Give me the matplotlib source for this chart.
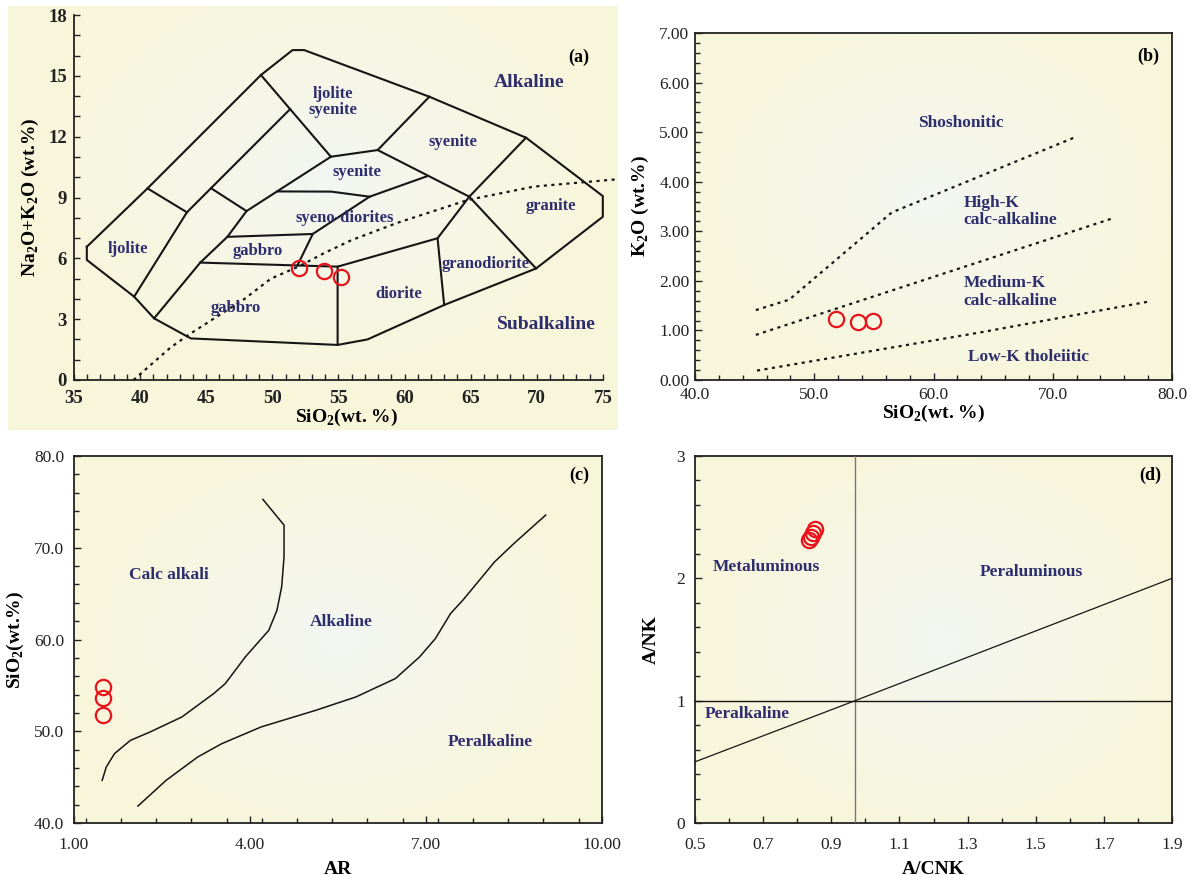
import numpy as np
import matplotlib
matplotlib.use('Agg')
import matplotlib.pyplot as plt
from matplotlib.ticker import MultipleLocator, FormatStrFormatter, FixedLocator

plt.rcParams['font.family'] = ['Liberation Serif', 'DejaVu Serif']
plt.rcParams['mathtext.fontset'] = 'custom'
plt.rcParams['mathtext.rm'] = 'Liberation Serif'
plt.rcParams['mathtext.bf'] = 'Liberation Serif:bold'

NAVY = '#2e2d6e'
RED = '#e8141b'

# ---------------- Panel (a) TAS data ----------------
tas_sio2 = [52.0, 53.9, 55.2]
tas_alk = [5.5, 5.4, 5.1]

tas_outer = [(35.97, 6.57), (40.56, 9.45), (49.14, 15.04), (51.53, 16.27), (52.41, 16.27),
             (61.88, 13.97), (69.19, 11.95), (75.0, 9.07), (75.0, 8.05), (69.95, 5.5),
             (63.0, 3.7), (57.2, 2.0), (54.94, 1.73), (43.84, 2.05), (41.06, 3.04),
             (39.55, 4.11), (35.97, 5.92), (35.97, 6.57)]
tas_lines = [
    [(51.35, 13.36), (43.54, 8.27), (39.55, 4.11)],
    [(54.43, 11.01), (48.05, 8.33), (46.6, 7.06), (44.55, 5.79), (41.06, 3.04)],
    [(40.56, 9.45), (43.54, 8.27)],
    [(45.36, 9.46), (48.05, 8.33)],
    [(49.14, 15.04), (54.43, 11.01)],
    [(54.43, 11.01), (57.97, 11.34), (61.88, 13.97)],
    [(57.97, 11.34), (64.9, 9.04)],
    [(69.19, 11.95), (64.9, 9.04), (69.95, 5.5)],
    [(64.9, 9.04), (62.5, 6.99), (63.0, 3.7)],
    [(62.5, 6.99), (54.94, 5.59), (54.94, 1.73)],
    [(44.55, 5.79), (54.94, 5.59)],
    [(46.6, 7.06), (53.06, 7.2), (57.36, 9.04), (61.75, 10.06)],
    [(53.06, 7.2), (51.9, 5.65)],
    [(50.4, 9.3), (54.46, 9.29), (57.36, 9.04)],
]
ib_x = [39.5, 42.3, 43.6, 47.9, 49.9, 52.0, 53.9, 56.0, 59.5, 64.8, 69.8, 76.1]
ib_y = [0.0, 1.6, 2.2, 4.0, 5.0, 5.6, 6.25, 6.9, 7.76, 8.88, 9.54, 9.9]

tas_labels = [
    ('ljolite\nsyenite', 54.6, 13.7, 12), ('syenite', 63.7, 11.73, 12),
    ('syenite', 56.4, 10.28, 12), ('syeno-diorites', 55.45, 7.98, 12),
    ('ljolite', 39.1, 6.45, 12), ('gabbro', 48.9, 6.38, 12),
    ('gabbro', 47.2, 3.54, 12), ('diorite', 59.55, 4.23, 12),
    ('granodiorite', 66.1, 5.7, 12), ('granite', 71.1, 8.6, 12),
    ('Alkaline', 69.4, 14.67, 14), ('Subalkaline', 70.7, 2.75, 14),
]

# ---------------- Panel (b) data ----------------
k_sio2 = [51.8, 53.7, 54.9]
k_k2o = [1.24, 1.17, 1.20]
shos_x = [45.1, 47.9, 56.5, 72.0]
shos_y = [1.41, 1.62, 3.38, 4.91]
highk_x = [45.1, 60.0, 75.0]
highk_y = [0.91, 2.08, 3.26]
lowk_x = [45.2, 63.7, 78.0]
lowk_y = [0.19, 0.95, 1.58]
k_labels = [('Shoshonitic', 62.3, 5.18, 'center'), ('High-K\ncalc-alkaline', 62.5, 3.4, 'left'),
            ('Medium-K\ncalc-alkaline', 62.5, 1.77, 'left'), ('Low-K tholeiitic', 62.9, 0.46, 'left')]

# ---------------- Panel (c) data ----------------
ar_vals = [1.5, 1.5, 1.5]
ar_sio2 = [51.8, 53.6, 54.8]
ca_x = [1.48, 1.55, 1.69, 1.96, 2.30, 2.84, 3.38, 3.58, 3.92, 4.32, 4.46, 4.54, 4.58, 4.58, 4.22]
ca_y = [44.65, 46.1, 47.56, 49.0, 49.93, 51.56, 54.1, 55.2, 58.1, 61.0, 63.2, 65.75, 69.0, 72.47, 75.27]
pk_x = [2.09, 2.57, 3.11, 3.52, 4.19, 5.13, 5.81, 6.48, 6.89, 7.16, 7.42, 7.63, 8.17, 8.5, 9.04]
pk_y = [41.85, 44.65, 47.2, 48.65, 50.47, 52.3, 53.75, 55.75, 58.1, 60.1, 62.84, 64.3, 68.47, 70.47, 73.56]
ar_labels = [('Calc alkali', 2.62, 67.0), ('Alkaline', 5.55, 61.9), ('Peralkaline', 8.09, 48.8)]
ar_ticks = [1.0, 4.0, 7.0, 10.0]

# ---------------- Panel (d) data ----------------
acnk = [0.835, 0.841, 0.847, 0.853]
anK = [2.31, 2.34, 2.37, 2.40]
acnk_div = 0.97
diag_x = [0.5, 0.97, 1.9]
diag_y = [0.5, 1.0, 2.0]
d_labels = [('Metaluminous', 0.709, 2.09), ('Peraluminous', 1.487, 2.05), ('Peralkaline', 0.653, 0.894)]
acnk_ticks = [0.5, 0.7, 0.9, 1.1, 1.3, 1.5, 1.7, 1.9]

W, H = 1187, 876
fig = plt.figure(figsize=(W / 100, H / 100), dpi=100)


def frac(x0, y0, x1, y1):
    return [x0 / W, 1 - y1 / H, (x1 - x0) / W, (y1 - y0) / H]


def gradient(cx=0.5, cy=0.5, rx=0.55, ry=0.55):
    n = 300
    yy, xx = np.mgrid[0:1:n * 1j, 0:1:n * 1j]
    r = np.sqrt(((xx - cx) / rx) ** 2 + ((yy - cy) / ry) ** 2)
    t = np.clip(r, 0, 1) ** 0.8
    c0 = np.array([243, 247, 244]) / 255.0
    c1 = np.array([248, 246, 218]) / 255.0
    img = c0[None, None, :] * (1 - t[..., None]) + c1[None, None, :] * t[..., None]
    return img


def add_bg(ax, **kw):
    ax.imshow(gradient(**kw), extent=(0, 1, 0, 1), transform=ax.transAxes,
              aspect='auto', zorder=-5, origin='lower', interpolation='bilinear')


def style(ax, box=True, labelsize=12.5, xpad=5, ypad=4):
    for s in ax.spines.values():
        s.set_linewidth(1.3)
        s.set_color('#222222')
    ax.tick_params(which='both', direction='in', labelsize=labelsize, width=1.0, colors='#222222',
                   top=False, right=False)
    ax.tick_params(axis='x', which='major', pad=xpad)
    ax.tick_params(axis='y', which='major', pad=ypad)
    ax.tick_params(which='major', length=5)
    ax.tick_params(which='minor', length=3.5)
    if not box:
        ax.spines['top'].set_visible(False)
        ax.spines['right'].set_visible(False)


label_font = dict(fontsize=14, fontweight='bold')
mk = dict(marker='o', ls='none', ms=11, mfc='none', mec=RED, mew=1.6, zorder=5)

# ---------- (a) ----------
bg = fig.add_axes(frac(8, 6, 618, 430))
bg.set_axis_off()
add_bg(bg, cx=0.52, cy=0.6, rx=0.5, ry=0.55)
bg.set_zorder(0)

axa = fig.add_axes(frac(74, 15, 620, 380))
axa.set_zorder(1)
axa.set_facecolor('none')
axa.set_xlim(35, 76.3)
axa.set_ylim(0, 18)
style(axa, box=False, labelsize=13.5, xpad=7, ypad=5)
axa.spines['bottom'].set_bounds(35, 75)
axa.set_xticks(list(range(35, 76, 5)))
axa.set_xticks(list(range(35, 76)), minor=True)
axa.yaxis.set_major_locator(MultipleLocator(3))
axa.yaxis.set_minor_locator(MultipleLocator(1))
axa.tick_params(which='both', length=4)
for lab in axa.get_xticklabels() + axa.get_yticklabels():
    lab.set_fontweight('bold')
ox, oy = zip(*tas_outer)
axa.plot(ox, oy, color='#151515', lw=1.5, zorder=3)
for seg in tas_lines:
    sx, sy = zip(*seg)
    axa.plot(sx, sy, color='#151515', lw=1.5, zorder=3)
axa.plot(ib_x, ib_y, color='#151515', lw=1.6, ls=(0, (1.4, 2.0)), zorder=3, clip_on=False)
for txt, x, y, fs in tas_labels:
    axa.text(x, y, txt, color=NAVY, fontsize=fs, ha='center', va='center', linespacing=1.0,
             fontweight='bold', zorder=4)
axa.text(73.2, 15.92, '(a)', fontsize=13, fontweight='bold', ha='center', va='center')
axa.plot(tas_sio2, tas_alk, **mk)
axa.set_xlabel(r'SiO$_\mathbf{2}$(wt. %)', labelpad=0, **label_font)
axa.set_ylabel(r'Na$_\mathbf{2}$O+K$_\mathbf{2}$O (wt.%)', labelpad=5, **label_font)

# ---------- (b) ----------
axb = fig.add_axes(frac(695, 33, 1172, 380))
add_bg(axb, cx=0.5, cy=0.52, rx=0.55, ry=0.6)
axb.set_xlim(40, 80)
axb.set_ylim(0, 7)
style(axb, xpad=5)
axb.xaxis.set_major_locator(MultipleLocator(10))
axb.xaxis.set_minor_locator(MultipleLocator(2))
axb.yaxis.set_major_locator(MultipleLocator(1))
axb.yaxis.set_minor_locator(MultipleLocator(0.2))
axb.xaxis.set_major_formatter(FormatStrFormatter('%.1f'))
axb.yaxis.set_major_formatter(FormatStrFormatter('%.2f'))
for lx, ly in [(shos_x, shos_y), (highk_x, highk_y), (lowk_x, lowk_y)]:
    axb.plot(lx, ly, color='#151515', lw=1.6, ls=(0, (1.4, 2.0)), zorder=3)
for txt, x, y, ha in k_labels:
    axb.text(x, y, txt, color=NAVY, fontsize=12.5, fontweight='bold', ha=ha, va='center',
             linespacing=1.15)
axb.text(78.0, 6.53, '(b)', fontsize=13, fontweight='bold', ha='center', va='center')
axb.plot(k_sio2, k_k2o, **mk)
axb.set_xlabel(r'SiO$_\mathbf{2}$(wt. %)', labelpad=0, **label_font)
axb.set_ylabel(r'K$_\mathbf{2}$O (wt.%)', labelpad=6, **label_font)

# ---------- (c) ----------
axc = fig.add_axes(frac(74, 456, 602, 823))
add_bg(axc, cx=0.5, cy=0.5, rx=0.55, ry=0.6)
axc.set_xlim(1, 10)
axc.set_ylim(40, 80)
style(axc, xpad=10, ypad=7)
axc.xaxis.set_major_locator(FixedLocator(ar_ticks))
axc.xaxis.set_minor_locator(MultipleLocator(0.6))
axc.yaxis.set_major_locator(MultipleLocator(10))
axc.yaxis.set_minor_locator(MultipleLocator(2))
axc.xaxis.set_major_formatter(FormatStrFormatter('%.2f'))
axc.yaxis.set_major_formatter(FormatStrFormatter('%.1f'))
axc.plot(ca_x, ca_y, color='#151515', lw=1.1, zorder=3)
axc.plot(pk_x, pk_y, color='#151515', lw=1.1, zorder=3)
for txt, x, y in ar_labels:
    axc.text(x, y, txt, color=NAVY, fontsize=12.5, fontweight='bold', ha='center', va='center')
axc.text(9.62, 77.9, '(c)', fontsize=13, fontweight='bold', ha='center', va='center')
axc.plot(ar_vals, ar_sio2, **mk)
axc.set_xlabel('AR', labelpad=6, **label_font)
axc.set_ylabel(r'SiO$_\mathbf{2}$(wt.%)', labelpad=6, **label_font)

# ---------- (d) ----------
axd = fig.add_axes(frac(695, 456, 1172, 823))
add_bg(axd, cx=0.52, cy=0.5, rx=0.55, ry=0.6)
axd.set_xlim(0.5, 1.9)
axd.set_ylim(0, 3)
style(axd, xpad=10, ypad=7)
axd.xaxis.set_major_locator(FixedLocator(acnk_ticks))
axd.xaxis.set_minor_locator(MultipleLocator(0.1))
axd.yaxis.set_major_locator(MultipleLocator(1))
axd.yaxis.set_minor_locator(MultipleLocator(0.2))
axd.xaxis.set_major_formatter(FormatStrFormatter('%.1f'))
axd.yaxis.set_major_formatter(FormatStrFormatter('%d'))
axd.axvline(acnk_div, color='#777777', lw=1.0, zorder=3)
axd.axhline(1.0, color='#151515', lw=1.0, zorder=3)
axd.plot(diag_x, diag_y, color='#151515', lw=0.9, zorder=3)
for txt, x, y in d_labels:
    axd.text(x, y, txt, color=NAVY, fontsize=12.5, fontweight='bold', ha='center', va='center')
axd.text(1.835, 2.84, '(d)', fontsize=13, fontweight='bold', ha='center', va='center')
axd.plot(acnk, anK, **mk)
axd.set_xlabel('A/CNK', labelpad=6, **label_font)
axd.set_ylabel('A/NK', labelpad=12, **label_font)

fig.savefig('out.png', dpi=100, facecolor='white')
